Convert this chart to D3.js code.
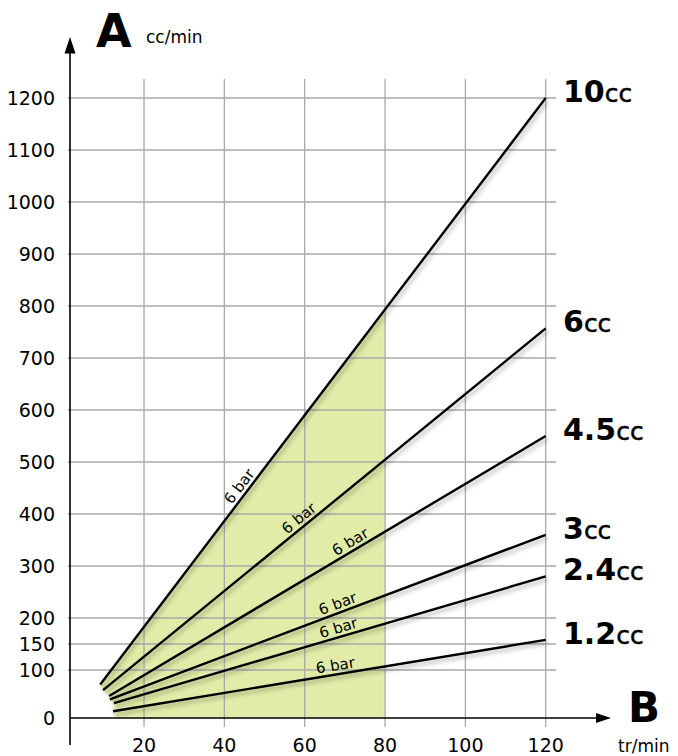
<!DOCTYPE html>
<html>
<head>
<meta charset="utf-8">
<script src="https://cdnjs.cloudflare.com/ajax/libs/d3/7.8.5/d3.min.js"></script>
<style>
  body { margin: 0; background: #fff; }
  text { font-family: "DejaVu Sans", sans-serif; fill: #000; }
</style>
</head>
<body>
<div id="chart"></div>
<script>
var width = 678;
var height = 756;

// axis ticks
var rpmTicks = [20, 40, 60, 80, 100, 120];
var flowTicks = [0, 100, 150, 200, 300, 400, 500, 600, 700, 800, 900, 1000, 1100, 1200];

// pump sizes (cc) and their flow lines
var pumpSizes = ["10", "6", "4.5", "3", "2.4", "1.2"];
var startRpm = [9.1, 9.8, 11.3, 11.5, 12.5, 12.3];
var startFlow = [70, 58, 46, 39, 31, 14];
var endRpm = [120, 120, 120, 120, 120, 120];
var endFlow = [1200, 757, 550, 360, 280, 158];

// "6 bar" notes along each line
var pressureText = "6 bar";
var pressureRpm = [45.5, 60, 72.5, 69, 69, 68];

// shaded working zone goes up to this speed
var zoneMaxRpm = 80;

var xScale = d3.scaleLinear()
    .domain([0, 120])
    .range([63.7, 545.7]);

// grid in the original is a bit squashed under 100
var yScale = d3.scaleLinear()
    .domain([0, 100, 1200])
    .range([718, 670, 98]);

var svgCanvas = d3.select("#chart")
    .append("svg")
    .attr("width", width)
    .attr("height", height);

var defs = svgCanvas.append("defs");
defs.append("filter")
    .attr("id", "shadow")
    .attr("x", "-20%").attr("y", "-20%")
    .attr("width", "140%").attr("height", "140%")
    .append("feDropShadow")
    .attr("dx", 2)
    .attr("dy", 3)
    .attr("stdDeviation", 2)
    .attr("flood-color", "#000")
    .attr("flood-opacity", 0.3);
defs.append("filter")
    .attr("id", "soft")
    .append("feGaussianBlur")
    .attr("stdDeviation", 0.8);

// pixel points of each line
var lines = pumpSizes.map(function(d, k) {
    return {
        size: d,
        x1: xScale(startRpm[k]), y1: yScale(startFlow[k]),
        x2: xScale(endRpm[k]), y2: yScale(endFlow[k]),
        noteRpm: pressureRpm[k]
    };
});

function pointAt(l, rpm) {
    var px = xScale(rpm);
    var t = (px - l.x1) / (l.x2 - l.x1);
    return [px, l.y1 + t * (l.y2 - l.y1)];
}

// shaded zone: line starts, down to the axis, across to 80, up to the 10cc line
var topLine = lines[0];
var zone = lines.map(function(l) { return [l.x1, l.y1]; });
zone.push([xScale(startRpm[startRpm.length - 1]) + 2, yScale(0)]);
zone.push([xScale(zoneMaxRpm), yScale(0)]);
zone.push(pointAt(topLine, zoneMaxRpm));

svgCanvas.append("polygon")
    .attr("points", zone.map(function(p) { return p.join(","); }).join(" "))
    .attr("fill", "#e2eca9")
    .attr("filter", "url(#soft)");

// grid
var grid = svgCanvas.append("g").attr("class", "grid");
grid.selectAll("line.h")
    .data(flowTicks.filter(function(d) { return d > 0; }))
    .enter()
    .append("line")
    .attr("class", "h")
    .attr("x1", 68)
    .attr("x2", 556)
    .attr("y1", function(d) { return yScale(d); })
    .attr("y2", function(d) { return yScale(d); })
    .attr("stroke", "#a8a8a8")
    .attr("stroke-width", 1.3);

grid.selectAll("line.v")
    .data(rpmTicks)
    .enter()
    .append("line")
    .attr("class", "v")
    .attr("x1", function(d) { return xScale(d); })
    .attr("x2", function(d) { return xScale(d); })
    .attr("y1", 79)
    .attr("y2", 727)
    .attr("stroke", "#a8a8a8")
    .attr("stroke-width", 1.3);

// axes with arrows
svgCanvas.append("line")
    .attr("x1", 70).attr("y1", 745)
    .attr("x2", 70).attr("y2", 50)
    .attr("stroke", "#000").attr("stroke-width", 1.6);
svgCanvas.append("path")
    .attr("d", "M70,37 L64.5,53.5 L75.5,53.5 Z")
    .attr("fill", "#000");

svgCanvas.append("line")
    .attr("x1", 70).attr("y1", yScale(0))
    .attr("x2", 600).attr("y2", yScale(0))
    .attr("stroke", "#000").attr("stroke-width", 1.6);
svgCanvas.append("path")
    .attr("d", "M611," + yScale(0) + " L596," + (yScale(0) - 5) + " L596," + (yScale(0) + 5) + " Z")
    .attr("fill", "#000");

// tick labels
svgCanvas.selectAll("text.yTick")
    .data(flowTicks)
    .enter()
    .append("text")
    .attr("class", "yTick")
    .attr("x", 55)
    .attr("y", function(d) { return yScale(d) + 7; })
    .attr("text-anchor", "end")
    .style("font-size", "19px")
    .text(function(d) { return d; });

svgCanvas.selectAll("text.xTick")
    .data(rpmTicks)
    .enter()
    .append("text")
    .attr("class", "xTick")
    .attr("x", function(d) { return xScale(d); })
    .attr("y", 752)
    .attr("text-anchor", "middle")
    .style("font-size", "19px")
    .text(function(d) { return d; });

// axis titles
svgCanvas.append("text")
    .attr("x", 96).attr("y", 47)
    .style("font-size", "46px").style("font-weight", "bold")
    .text("A");
svgCanvas.append("text")
    .attr("x", 146).attr("y", 43)
    .style("font-size", "17px")
    .text("cc/min");
svgCanvas.append("text")
    .attr("x", 628).attr("y", 722)
    .style("font-size", "42px").style("font-weight", "bold")
    .text("B");
svgCanvas.append("text")
    .attr("x", 618).attr("y", 752)
    .style("font-size", "17px")
    .text("tr/min");

// flow lines
svgCanvas.selectAll("line.pump")
    .data(lines)
    .enter()
    .append("line")
    .attr("class", "pump")
    .attr("x1", function(d) { return d.x1; })
    .attr("y1", function(d) { return d.y1; })
    .attr("x2", function(d) { return d.x2; })
    .attr("y2", function(d) { return d.y2; })
    .attr("stroke", "#000")
    .attr("stroke-width", 2.4)
    .attr("filter", "url(#shadow)");

// "6 bar" along the lines
svgCanvas.selectAll("text.bar")
    .data(lines)
    .enter()
    .append("text")
    .attr("class", "bar")
    .attr("transform", function(d) {
        var p = pointAt(d, d.noteRpm);
        var angle = Math.atan2(d.y2 - d.y1, d.x2 - d.x1) * 180 / Math.PI;
        return "translate(" + p[0] + "," + p[1] + ") rotate(" + angle + ")";
    })
    .attr("y", -4)
    .attr("text-anchor", "middle")
    .style("font-size", "15px")
    .text(pressureText);

// pump size labels on the right
var sizeLabels = svgCanvas.selectAll("text.size")
    .data(lines)
    .enter()
    .append("text")
    .attr("class", "size")
    .attr("x", 563)
    .attr("y", function(d) { return d.y2 + 4; });
sizeLabels.append("tspan")
    .style("font-size", "30px")
    .style("font-weight", "bold")
    .text(function(d) { return d.size; });
sizeLabels.append("tspan")
    .style("font-size", "25px")
    .style("stroke", "#000")
    .style("stroke-width", 0.5)
    .text("cc");
</script>
</body>
</html>
